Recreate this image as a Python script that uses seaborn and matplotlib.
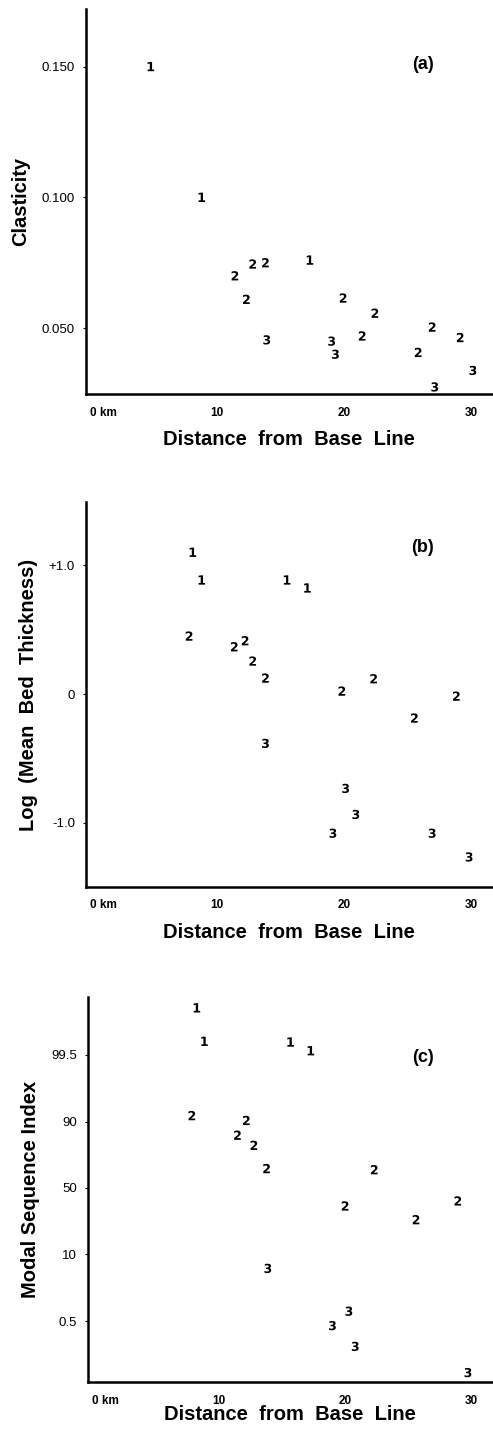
import numpy as np
import pandas as pd
import matplotlib
matplotlib.use("Agg")
import matplotlib.pyplot as plt
import seaborn as sns
from statistics import NormalDist

# panel (a) - clasticity
dist_a = [4.8, 8.8, 11.4, 12.8, 13.8, 17.3, 12.3, 13.9, 19.9, 22.4, 19.0, 19.3, 21.4, 26.9, 29.1, 25.8, 30.1, 27.1]
clast_a = [0.150, 0.100, 0.070, 0.0745, 0.075, 0.076, 0.061, 0.0455, 0.0615, 0.0557, 0.045, 0.040, 0.047, 0.0504, 0.0464, 0.0407, 0.0338, 0.0275]
grp_a = ["1", "1", "2", "2", "2", "1", "2", "3", "2", "2", "3", "3", "2", "2", "2", "2", "3", "3"]

# panel (b) - log mean bed thickness
dist_b = [8.1, 8.8, 15.5, 17.1, 7.8, 11.35, 12.2, 12.8, 13.8, 19.8, 22.3, 28.8, 25.5, 13.8, 20.1, 20.9, 19.1, 26.9, 29.8]
logbt_b = [1.10, 0.885, 0.885, 0.823, 0.45, 0.367, 0.414, 0.256, 0.124, 0.023, 0.119, -0.016, -0.186, -0.383, -0.732, -0.934, -1.08, -1.08, -1.264]
grp_b = ["1", "1", "1", "1", "2", "2", "2", "2", "2", "2", "2", "2", "2", "3", "3", "3", "3", "3", "3"]

# panel (c) - modal sequence index (probability scale, %)
dist_c = [8.3, 8.9, 15.7, 17.3, 7.9, 12.2, 11.5, 12.8, 13.8, 22.3, 20.0, 28.9, 25.6, 13.9, 20.3, 19.0, 20.8, 29.7]
msi_c = [99.975, 99.77, 99.76, 99.6, 91.9, 90.4, 84.6, 79.5, 64.6, 63.8, 36.4, 40.1, 27.0, 6.0, 0.86, 0.39, 0.11, 0.018]
grp_c = ["1", "1", "1", "1", "2", "2", "2", "2", "2", "2", "2", "2", "2", "3", "3", "3", "3", "3"]

xticks = [0, 10, 20, 30]
xtick_labels = ["0 km", "10", "20", "30"]

nd = NormalDist()


def prob_fwd(p):
    p = np.clip(np.asarray(p, dtype=float) / 100, 1e-12, 1 - 1e-12)
    return np.vectorize(nd.inv_cdf, otypes=[float])(p)


def prob_inv(z):
    return np.vectorize(nd.cdf, otypes=[float])(np.asarray(z, dtype=float)) * 100


sns.set_style("white")
plt.rcParams["font.family"] = ["Liberation Sans", "DejaVu Sans"]
plt.rcParams["mathtext.fontset"] = "dejavusans"
plt.rcParams["text.color"] = "black"
plt.rcParams["axes.labelcolor"] = "black"
plt.rcParams["xtick.color"] = "black"
plt.rcParams["ytick.color"] = "black"

digit_markers = {"1": r"$\mathbf{1}$", "2": r"$\mathbf{2}$", "3": r"$\mathbf{3}$"}

fig = plt.figure(figsize=(4.93, 14.37), dpi=100)
W, H = 493, 1437


def make_ax(left, top, bottom):
    return fig.add_axes([left / W, 1 - bottom / H, (492 - left) / W, (bottom - top) / H])


ax_a = make_ax(86, 9, 394)
ax_b = make_ax(86, 502, 887)
ax_c = make_ax(88, 997, 1382)

ax_c.set_yscale("function", functions=(prob_fwd, prob_inv))

panels = [
    (ax_a, dist_a, clast_a, grp_a, "Clasticity", "(a)", 0.855, 8),
    (ax_b, dist_b, logbt_b, grp_b, "Log  (Mean  Bed  Thickness)", "(b)", 0.883, 8),
    (ax_c, dist_c, msi_c, grp_c, "Modal Sequence Index", "(c)", 0.844, -1),
]

for ax, xs, ys, gs, ylab, tag, tag_y, xlpad in panels:
    df = pd.DataFrame({"dist": xs, "val": ys, "grp": gs})
    sns.scatterplot(data=df, x="dist", y="val", style="grp", markers=digit_markers,
                    color="black", s=45, linewidth=0, legend=False, ax=ax)
    ax.set_xlim(-0.3, 31.6)
    ax.set_xticks(xticks, xtick_labels)
    ax.get_xticklabels()[0].set_horizontalalignment("left")
    ax.tick_params(axis="x", length=0, pad=9, labelsize=8.5)
    for t in ax.get_xticklabels():
        t.set_fontweight("bold")
    ax.tick_params(axis="y", length=2, width=0.8, pad=6, labelsize=9.5, direction="out", left=True)
    ax.set_xlabel("Distance  from  Base  Line", fontsize=14.5, fontweight="bold", labelpad=xlpad)
    ax.set_ylabel(ylab, fontsize=14.5, fontweight="bold", labelpad=8)
    ax.text(0.83, tag_y, tag, transform=ax.transAxes, fontsize=13, fontweight="bold",
            ha="center", va="center")
    sns.despine(ax=ax)
    for side in ["left", "bottom"]:
        ax.spines[side].set_linewidth(1.8)
        ax.spines[side].set_color("black")

ax_a.set_ylim(0.0248, 0.172)
ax_a.set_yticks([0.050, 0.100, 0.150], ["0.050", "0.100", "0.150"])

ax_b.set_ylim(-1.497, 1.49)
ax_b.set_yticks([-1.0, 0, 1.0], ["-1.0", "0", "+1.0"])

ax_c.set_ylim(prob_inv(-3.75), prob_inv(3.69))
ax_c.set_yticks([0.5, 10, 50, 90, 99.5], ["0.5", "10", "50", "90", "99.5"])
ax_c.yaxis.set_minor_locator(matplotlib.ticker.NullLocator())

fig.savefig("out.png", dpi=100)
